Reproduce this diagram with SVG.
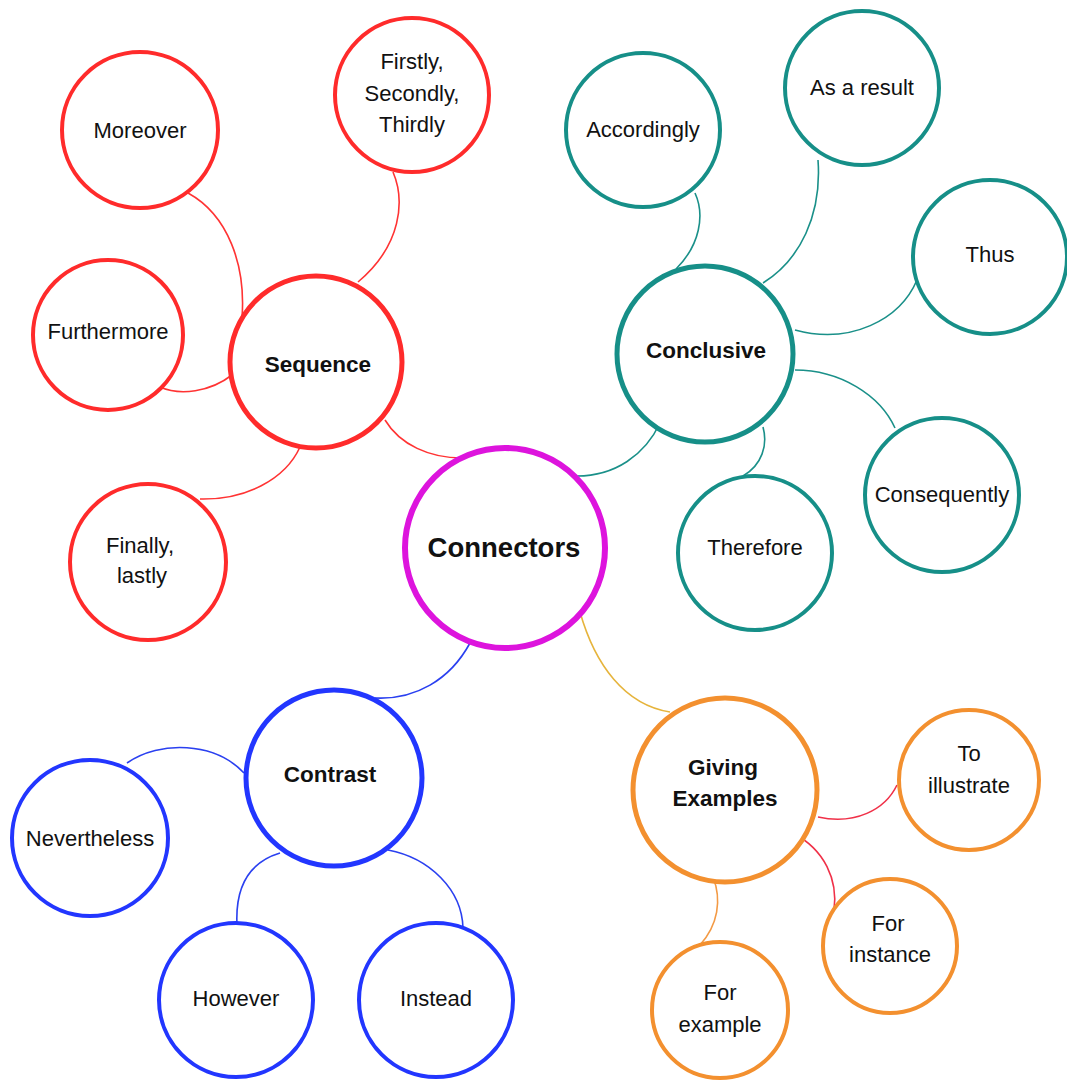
<svg xmlns="http://www.w3.org/2000/svg" width="1067" height="1081" viewBox="0 0 1067 1081">
  <style>
    .bg { fill: #ffffff; }
    .node circle { fill: #ffffff; }
    .root circle { stroke: #dd14dd; stroke-width: 6; }
    .red circle { stroke: #ff2b2b; }
    .teal circle { stroke: #168f88; }
    .blue circle { stroke: #2236ff; }
    .orange circle { stroke: #f3902f; }
    .cat circle { stroke-width: 5; }
    .leaf circle { stroke-width: 4; }
    text { font-family: "Liberation Sans", Arial, Helvetica, sans-serif; fill: #111111; text-anchor: middle; }
    .root text { font-size: 27.5px; font-weight: bold; }
    .cat text { font-size: 22.5px; font-weight: bold; }
    .leaf text { font-size: 22px; }
    #connectors path { fill: none; stroke-width: 1.6; }
    .c-red { stroke: #ff3333; }
    .c-teal { stroke: #1a9089; }
    .c-blue { stroke: #2a40f0; }
    .c-gold { stroke: #e6b43c; }
    .c-pink { stroke: #f03048; }
    .c-orange { stroke: #f39a45; }
  </style>
  <rect class="bg" x="0" y="0" width="1067" height="1081"/>

  <g id="connectors">
    <!-- Sequence branch -->
    <path class="c-red" d="M 385 420 C 400 445, 430 458, 462 458"/>
    <path class="c-red" d="M 188 193 C 228 215, 246 265, 242 318"/>
    <path class="c-red" d="M 393 172 C 405 200, 402 245, 358 282"/>
    <path class="c-red" d="M 160 387 C 180 396, 210 392, 232 375"/>
    <path class="c-red" d="M 300 447 C 285 480, 245 500, 200 499"/>
    <!-- Conclusive branch -->
    <path class="c-teal" d="M 660 423 C 645 455, 615 476, 577 476"/>
    <path class="c-teal" d="M 695 193 C 705 215, 700 245, 676 269"/>
    <path class="c-teal" d="M 818 160 C 822 215, 800 260, 763 283"/>
    <path class="c-teal" d="M 795 330 C 850 345, 900 320, 917 280"/>
    <path class="c-teal" d="M 795 370 C 840 370, 880 395, 895 428"/>
    <path class="c-teal" d="M 763 427 C 768 445, 762 465, 743 476"/>
    <!-- Contrast branch -->
    <path class="c-blue" d="M 470 643 C 450 680, 415 700, 375 698"/>
    <path class="c-blue" d="M 127 763 C 160 740, 215 742, 244 773"/>
    <path class="c-blue" d="M 280 853 C 250 862, 235 885, 237 925"/>
    <path class="c-blue" d="M 388 850 C 430 858, 462 890, 463 928"/>
    <!-- Giving Examples branch -->
    <path class="c-gold" d="M 580 612 C 595 665, 625 705, 670 712"/>
    <path class="c-pink" d="M 818 817 C 855 825, 885 810, 897 785"/>
    <path class="c-pink" d="M 793 833 C 825 850, 838 880, 834 910"/>
    <path class="c-orange" d="M 713 877 C 722 900, 718 925, 700 945"/>
  </g>

  <!-- central node -->
  <g id="node-connectors" class="node root">
    <circle cx="505" cy="548" r="100"/>
    <text x="504" y="557">Connectors</text>
  </g>

  <!-- Sequence -->
  <g id="node-sequence" class="node cat red">
    <circle cx="316" cy="362" r="86"/>
    <text x="318" y="372">Sequence</text>
  </g>
  <g id="node-moreover" class="node leaf red">
    <circle cx="140" cy="130" r="78"/>
    <text x="140" y="138">Moreover</text>
  </g>
  <g id="node-firstly" class="node leaf red">
    <circle cx="412" cy="95" r="77"/>
    <text x="412" y="69">Firstly,</text>
    <text x="412" y="101">Secondly,</text>
    <text x="412" y="132">Thirdly</text>
  </g>
  <g id="node-furthermore" class="node leaf red">
    <circle cx="108" cy="335" r="75"/>
    <text x="108" y="339">Furthermore</text>
  </g>
  <g id="node-finally" class="node leaf red">
    <circle cx="148" cy="562" r="78"/>
    <text x="140" y="553">Finally,</text>
    <text x="142" y="583">lastly</text>
  </g>

  <!-- Conclusive -->
  <g id="node-conclusive" class="node cat teal">
    <circle cx="705" cy="354" r="88"/>
    <text x="706" y="358">Conclusive</text>
  </g>
  <g id="node-accordingly" class="node leaf teal">
    <circle cx="643" cy="130" r="77"/>
    <text x="643" y="137">Accordingly</text>
  </g>
  <g id="node-as-a-result" class="node leaf teal">
    <circle cx="862" cy="88" r="77"/>
    <text x="862" y="95">As a result</text>
  </g>
  <g id="node-thus" class="node leaf teal">
    <circle cx="990" cy="257" r="77"/>
    <text x="990" y="262">Thus</text>
  </g>
  <g id="node-consequently" class="node leaf teal">
    <circle cx="942" cy="495" r="77"/>
    <text x="942" y="502">Consequently</text>
  </g>
  <g id="node-therefore" class="node leaf teal">
    <circle cx="755" cy="553" r="77"/>
    <text x="755" y="555">Therefore</text>
  </g>

  <!-- Contrast -->
  <g id="node-contrast" class="node cat blue">
    <circle cx="334" cy="778" r="88"/>
    <text x="330" y="782">Contrast</text>
  </g>
  <g id="node-nevertheless" class="node leaf blue">
    <circle cx="90" cy="838" r="78"/>
    <text x="90" y="846">Nevertheless</text>
  </g>
  <g id="node-however" class="node leaf blue">
    <circle cx="236" cy="1000" r="77"/>
    <text x="236" y="1006">However</text>
  </g>
  <g id="node-instead" class="node leaf blue">
    <circle cx="436" cy="1000" r="77"/>
    <text x="436" y="1006">Instead</text>
  </g>

  <!-- Giving Examples -->
  <g id="node-giving-examples" class="node cat orange">
    <circle cx="725" cy="790" r="92"/>
    <text x="723" y="775">Giving</text>
    <text x="725" y="806">Examples</text>
  </g>
  <g id="node-to-illustrate" class="node leaf orange">
    <circle cx="969" cy="780" r="70"/>
    <text x="969" y="761">To</text>
    <text x="969" y="793">illustrate</text>
  </g>
  <g id="node-for-instance" class="node leaf orange">
    <circle cx="890" cy="946" r="67"/>
    <text x="888" y="931">For</text>
    <text x="890" y="962">instance</text>
  </g>
  <g id="node-for-example" class="node leaf orange">
    <circle cx="720" cy="1010" r="68"/>
    <text x="720" y="1000">For</text>
    <text x="720" y="1032">example</text>
  </g>
</svg>
